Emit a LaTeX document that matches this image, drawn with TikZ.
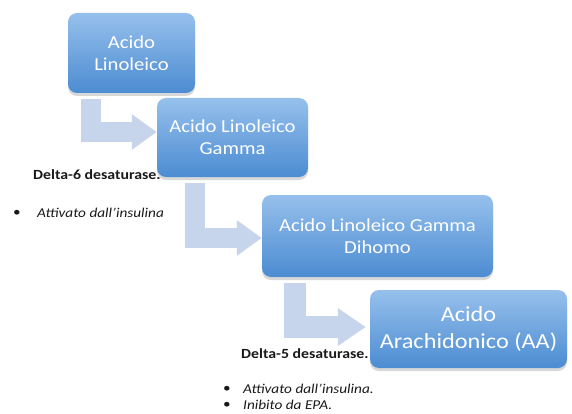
\documentclass[tikz,border=0pt]{standalone}
\usepackage{fontspec}
\setmainfont{Carlito}[FakeStretch=1.13]
\newfontfamily\boxfont{Carlito}[FakeStretch=1.13]
\usetikzlibrary{arrows.meta,shadows,backgrounds}

\definecolor{boxtop}{RGB}{150,192,236}
\definecolor{boxbottom}{RGB}{76,140,210}
\definecolor{bendarrow}{RGB}{198,213,235}
\definecolor{labeltext}{RGB}{25,25,25}

\tikzset{
  stepbox/.style={
    rounded corners=9pt, top color=boxtop, bottom color=boxbottom,
    draw=none, text=white, align=center, inner sep=0pt,
    drop shadow={shadow xshift=0pt, shadow yshift=-3pt, opacity=0.22, fill=black!70},
    font=\boxfont\fontsize{18.3}{22}\selectfont},
  bigbox/.style={stepbox, font=\boxfont\fontsize{21.5}{27}\selectfont},
  bentarrow/.style={draw=bendarrow, line width=20pt, line join=miter, line cap=butt},
  headA/.style={-{Triangle[length=25pt,width=34pt]}},
  headB/.style={-{Triangle[length=28pt,width=36pt]}},
  enzyme/.style={anchor=west, inner sep=0pt, text=labeltext,
    font=\bfseries\fontsize{14}{16}\selectfont},
  note/.style={anchor=west, inner sep=0pt, text=labeltext,
    font=\itshape\fontsize{13.5}{16}\selectfont},
  dot/.style={inner sep=0pt, text=labeltext, font=\fontsize{13.5}{16}\selectfont},
}

\begin{document}
\begin{tikzpicture}[x=1pt, y=-1pt]
  \useasboundingbox (0,0) rectangle (572,414);

  % process steps
  \node[stepbox, minimum width=127pt, minimum height=80pt] (lin) at (131.5,53) {Acido\\Linoleico};
  \node[stepbox, minimum width=151pt, minimum height=79pt] (gla) at (232.5,137.5) {Acido Linoleico\\Gamma};
  \node[stepbox, minimum width=231pt, minimum height=82pt] (dgla) at (377.5,236) {Acido Linoleico Gamma\\Dihomo};
  \node[bigbox, minimum width=197pt, minimum height=78pt] (aa) at (468.5,329) {Acido\\Arachidonico (AA)};

  % start and end points of the bent arrows
  \coordinate (s1) at ([xshift=-41pt, yshift=-6pt]lin.south);
  \coordinate (s2) at ([xshift=-37.5pt, yshift=-6pt]gla.south);
  \coordinate (s3) at ([xshift=-82.5pt, yshift=-6pt]dgla.south);
  \coordinate (t1) at ([yshift=5.5pt]gla.west);
  \coordinate (t2) at ([yshift=-2pt]dgla.west);
  \coordinate (t3) at ([xshift=-4pt, yshift=2pt]aa.west);

  % bent arrows between the steps, kept behind the boxes
  \begin{scope}[on background layer]
    \draw[bentarrow, headA] (s1) |- (t1);
    \draw[bentarrow, headA] (s2) |- (t2);
    \draw[bentarrow, line width=22pt, headB] (s3) |- (t3);
  \end{scope}

  % enzyme notes
  \node[enzyme] (d6) at (33,175) {Delta-6 desaturase.};
  \node[dot] (b1) at (17,213) {•};
  \node[note] (n1) at (37,213) {Attivato dall’insulina};

  \node[enzyme] (d5) at (241,354) {Delta-5 desaturase.};
  \node[dot] (b2) at (227,389) {•};
  \node[note] (n2) at (243,389) {Attivato dall’insulina.};
  \node[dot] (b3) at (227,405) {•};
  \node[note] (n3) at (243,405) {Inibito da EPA.};
\end{tikzpicture}
\end{document}
